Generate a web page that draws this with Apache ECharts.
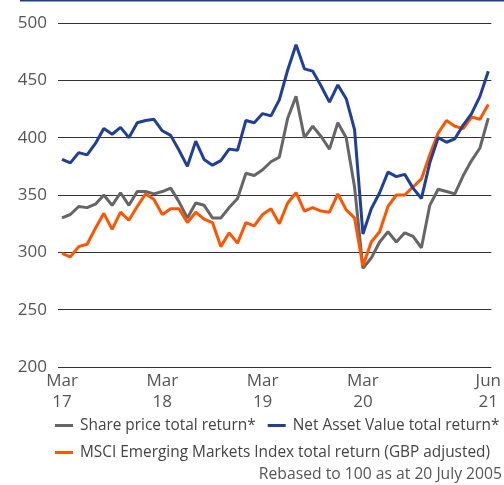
<!DOCTYPE html>
<html>
<head>
<meta charset="utf-8">
<script src="https://cdn.jsdelivr.net/npm/echarts@6/dist/echarts.min.js"></script>
<style>
html,body{margin:0;padding:0;background:#fff;}
#chart{width:504px;height:485px;}
</style>
</head>
<body>
<div id="chart"></div>
<script>
// Monthly points, Mar 2017 (index 0) to Jun 2021 (index 51)
var tickIndex = [0, 12, 24, 36, 51];
var tickLabels = ['Mar\n17', 'Mar\n18', 'Mar\n19', 'Mar\n20', 'Jun\n21'];
var yTicks = [200, 250, 300, 350, 400, 450, 500];

var sharePrice = [330, 333, 340, 339, 342, 350, 341, 352, 341, 353, 353, 351, 353,
  356, 344, 330, 343, 341, 330, 330, 339, 347, 369, 367, 372,
  379, 383, 417, 436, 400, 410, 401, 390, 413, 400, 357, 286,
  295, 309, 318, 309, 317, 314, 304, 341, 355, 353, 351, 367, 380, 391, 417];

var navReturn = [381, 378, 387, 385, 395, 408, 403, 409, 400, 413, 415, 416, 406,
  402, 389, 375, 397, 381, 376, 380, 390, 389, 415, 413, 421,
  419, 433, 459, 481, 460, 458, 445, 431, 446, 434, 407, 316,
  338, 352, 370, 366, 368, 356, 347, 378, 400, 396, 399, 411, 421, 436, 458];

var msciReturn = [299, 296, 305, 307, 321, 334, 320, 335, 328, 340, 351, 346, 333,
  338, 338, 326, 335, 329, 326, 305, 317, 308, 326, 323, 333,
  338, 325, 343, 352, 336, 339, 336, 335, 351, 337, 330, 288,
  309, 318, 340, 350, 350, 357, 364, 385, 404, 415, 410, 408, 418, 416, 429];

var seriesNames = ['Share price total return*', 'Net Asset Value total return*',
  'MSCI Emerging Markets Index total return (GBP adjusted)'];
var footnote = 'Rebased to 100 as at 20 July 2005';

function pairs(arr) { return arr.map(function (v, i) { return [i, v]; }); }

var FONT = '"Open Sans", "Noto Sans", sans-serif';
var chart = echarts.init(document.getElementById('chart'), null, {renderer: 'canvas'});
chart.setOption({
  animation: false,
  backgroundColor: '#ffffff',
  textStyle: {fontFamily: FONT},
  grid: {left: 58, right: 10, top: 23, bottom: 118, containLabel: false},
  xAxis: {
    type: 'value',
    min: -0.48, max: 51.36,
    axisLine: {show: false},
    axisTick: {show: false},
    splitLine: {show: false},
    axisLabel: {
      customValues: tickIndex,
      formatter: function (v) {
        var k = tickIndex.indexOf(Math.round(v));
        return k >= 0 ? tickLabels[k] : '';
      },
      color: '#555', fontSize: 17, lineHeight: 21, margin: 4, fontFamily: FONT,
      showMinLabel: true, showMaxLabel: true
    }
  },
  yAxis: {
    type: 'value',
    min: yTicks[0], max: yTicks[yTicks.length - 1], interval: 50,
    axisLine: {show: false},
    axisTick: {show: false},
    axisLabel: {color: '#555', fontSize: 17, margin: 11, fontFamily: FONT},
    splitLine: {lineStyle: {color: '#333', width: 1}}
  },
  legend: [{
    data: [seriesNames[0], seriesNames[1]],
    left: 55, top: 418, itemWidth: 18, itemHeight: 3, itemGap: 12,
    icon: 'rect', padding: 0,
    textStyle: {color: '#444', fontSize: 15.4, fontFamily: FONT, padding: [0, 0, 0, 2]}
  }, {
    data: [seriesNames[2]],
    left: 55, top: 445, itemWidth: 18, itemHeight: 3,
    icon: 'rect', padding: 0,
    textStyle: {color: '#444', fontSize: 15.4, fontFamily: FONT, padding: [0, 0, 0, 2]}
  }],
  graphic: [{
    type: 'rect', left: 20, top: 0,
    shape: {width: 484, height: 1.5},
    style: {fill: '#1c3f8c'}
  }, {
    type: 'text', right: 2, top: 467,
    style: {text: footnote, fill: '#555', font: '15.7px ' + FONT}
  }],
  series: [{
    name: seriesNames[0], type: 'line', data: pairs(sharePrice),
    showSymbol: false, symbol: 'none', z: 2,
    lineStyle: {color: '#666666', width: 3}, itemStyle: {color: '#666666'}
  }, {
    name: seriesNames[2], type: 'line', data: pairs(msciReturn),
    showSymbol: false, symbol: 'none', z: 3,
    lineStyle: {color: '#ff5500', width: 3}, itemStyle: {color: '#ff5500'}
  }, {
    name: seriesNames[1], type: 'line', data: pairs(navReturn),
    showSymbol: false, symbol: 'none', z: 4,
    lineStyle: {color: '#1f3f99', width: 3}, itemStyle: {color: '#1f3f99'}
  }]
});
</script>
</body>
</html>
